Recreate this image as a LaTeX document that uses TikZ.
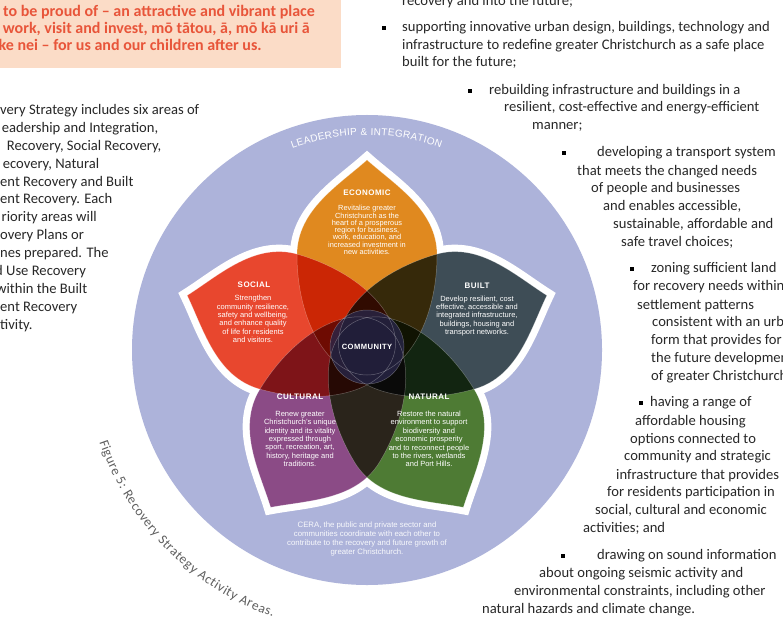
\documentclass[tikz,border=0pt]{standalone}
\usepackage{fontspec}
\setmainfont{Carlito}
\newfontfamily\pf{Liberation Sans}
\newfontfamily\pft[LetterSpace=6]{Liberation Sans}
\usetikzlibrary{decorations.text}
\definecolor{lav}{RGB}{173,179,218}
\definecolor{econ}{RGB}{224,137,31}
\definecolor{soc}{RGB}{232,71,46}
\definecolor{bui}{RGB}{62,77,86}
\definecolor{cul}{RGB}{139,75,134}
\definecolor{nat}{RGB}{78,123,52}
\definecolor{comm}{RGB}{40,38,72}
\definecolor{peach}{RGB}{251,220,199}
\definecolor{redtxt}{RGB}{232,85,58}
\definecolor{captxt}{RGB}{95,95,95}
\definecolor{bodyc}{RGB}{40,40,40}
\newcounter{tl}
\newcommand\bl[3]{\stepcounter{tl}\node[bodytxt] (tl\thetl) at (#1,{618.5-#2}) {#3};}
\newcommand\bsq[2]{\stepcounter{tl}\node[bullsq] (bq\thetl) at (#1,{622-#2}) {};}
\def\petalpath{(0pt,187pt) .. controls (28pt,162pt) and (70pt,137pt) .. (70pt,92pt) arc[x radius=70pt, y radius=120pt, start angle=0, end angle=-180] .. controls (-70pt,137pt) and (-28pt,162pt) .. (0pt,187pt) -- cycle}
\tikzset{
  bodytxt/.style={anchor=base west, inner sep=0pt, font=\fontsize{14.6}{17}\selectfont, text=bodyc},
  redline/.style={anchor=base west, inner sep=0pt, font=\bfseries\fontsize{16}{17}\selectfont, text=redtxt},
  ptitle/.style={inner sep=0pt, font=\pft\bfseries\fontsize{8}{9}\selectfont, text=white},
  pbody/.style={inner sep=0pt, align=center, font=\pf\fontsize{7.5}{8.4}\selectfont, text=white},
  bullsq/.style={fill=black, inner sep=0pt, minimum size=4.2pt},
}
\begin{document}
\begin{tikzpicture}[x=1pt,y=1pt]
\useasboundingbox (0,0) rectangle (783,622);
\fill[white] (0,0) rectangle (783,622);
% peach quote box
\fill[peach] (0,554) rectangle (341,622);
\node[redline] (r1) at (3,605) {to be proud of – an attractive and vibrant place};
\node[redline] (r2) at (-5,588) {, work, visit and invest, mō tātou, ā, mō kā uri ā};
\node[redline] (r3) at (-9.5,571) {ake nei – for us and our children after us.};
% big circle
\fill[lav] (367,272) circle[radius=235pt];
% petals
\begin{scope}[shift={(367,275)}]
  \foreach \r in {0,74,149,211,286}
    \draw[white, fill=white, line width=14pt, rotate=\r] \petalpath;
  \foreach \r/\c in {0/econ,74/soc,149/cul,211/nat,286/bui}
    \fill[\c, blend mode=multiply, rotate=\r] \petalpath;
  \fill[comm, opacity=0.8] (0,0) circle[radius=37pt];
  \foreach \r in {0,74,149,211,286}
    \draw[white, opacity=0.3, line width=0.5pt, rotate=\r] \petalpath;
  \draw[white, opacity=0.3, line width=0.5pt] (0,0) circle[radius=37pt];
\end{scope}
% petal texts
\node[ptitle] (econT) at (367,429) {ECONOMIC};
\node[pbody, font=\pf\fontsize{7.4}{7.3}\selectfont] (econB) at (367,392) {Revitalise greater\\Christchurch as the\\heart of a prosperous\\region for business,\\work, education, and\\increased investment in\\new activities.};
\node[ptitle] (socT) at (254,337) {SOCIAL};
\node[pbody] (socB) at (253,303) {Strengthen\\community resilience,\\safety and wellbeing,\\and enhance quality\\of life for residents\\and visitors.};
\node[ptitle] (buiT) at (477,336) {BUILT};
\node[pbody] (buiB) at (477,306) {Develop resilient, cost\\effective, accessible and\\integrated infrastructure,\\buildings, housing and\\transport networks.};
\node[ptitle] (culT) at (300,225) {CULTURAL};
\node[pbody] (culB) at (300,183) {Renew greater\\Christchurch’s unique\\identity and its vitality\\expressed through\\sport, recreation, art,\\history, heritage and\\traditions.};
\node[ptitle] (natT) at (429,225) {NATURAL};
\node[pbody] (natB) at (429,183) {Restore the natural\\environment to support\\biodiversity and\\economic prosperity\\and to reconnect people\\to the rivers, wetlands\\and Port Hills.};
\node[ptitle, font=\pft\bfseries\fontsize{7.6}{9}\selectfont] (commT) at (367,275) {COMMUNITY};
\node[pbody, font=\pf\fontsize{7.8}{9}\selectfont, text=white!92!lav] (cera) at (367,83.5) {CERA, the public and private sector and\\communities coordinate with each other to\\contribute to the recovery and future growth of\\greater Christchurch.};
% arc texts
\path[decorate, decoration={text along path, text align=fit to path,
  text={|\pf\fontsize{10}{10}\selectfont\color{white}|LEADERSHIP {\&} INTEGRATION}}]
  ([shift={(110.3:215pt)}]367,272) arc[start angle=110.3, end angle=70, radius=215pt];
\path[decorate, decoration={text along path, text align=fit to path,
  text={|\fontsize{13.5}{14}\selectfont\color{captxt}|Figure 5:  Recovery Strategy Activity Areas.}}]
  ([shift={(199:283pt)}]367,272) arc[start angle=199, end angle=250.5, radius=283pt];
% left paragraph
\bl{0}{111}{very Strategy includes six areas of}
\bl{1.7}{128.9}{eadership and Integration,}
\bl{6.7}{146.8}{Recovery, Social Recovery,}
\bl{2.7}{164.7}{ecovery, Natural}
\bl{0}{182.6}{ent Recovery and Built}
\bl{0}{200.5}{ent Recovery. Each}
\bl{1.5}{218.4}{riority areas will}
\bl{0}{236.3}{overy Plans or}
\bl{0}{254.2}{nes prepared. The}
\bl{-5}{272.1}{d Use Recovery}
\bl{-4}{290}{within the Built}
\bl{0}{307.9}{ent Recovery}
\bl{0}{325.8}{tivity.}
% right text
\bl{402}{2.5}{recovery and into the future;}
\bsq{384}{28}
\bl{402}{28}{supporting innovative urban design, buildings, technology and}
\bl{402}{46}{infrastructure to redefine greater Christchurch as a safe place}
\bl{402}{63}{built for the future;}
\bsq{470}{91}
\bl{489}{91}{rebuilding infrastructure and buildings in a}
\bl{504}{108}{resilient, cost-effective and energy-efficient}
\bl{532}{126}{manner;}
\bsq{564}{153}
\bl{597}{153}{developing a transport system}
\bl{577}{172}{that meets the changed needs}
\bl{591}{189}{of people and businesses}
\bl{603}{207}{and enables accessible,}
\bl{613}{225}{sustainable, affordable and}
\bl{621}{243}{safe travel choices;}
\bsq{632}{269}
\bl{651}{269}{zoning sufficient land}
\bl{633}{287}{for recovery needs within}
\bl{637}{306}{settlement patterns}
\bl{652}{323}{consistent with an urban}
\bl{651}{341}{form that provides for}
\bl{651}{359}{the future development}
\bl{651}{377}{of greater Christchurch;}
\bsq{641}{403}
\bl{650}{403}{having a range of}
\bl{635}{422}{affordable housing}
\bl{630}{440}{options connected to}
\bl{624}{457}{community and strategic}
\bl{616}{476}{infrastructure that provides}
\bl{607}{493}{for residents participation in}
\bl{595}{511}{social, cultural and economic}
\bl{583}{529}{activities; and}
\bsq{563}{556}
\bl{597}{556}{drawing on sound information}
\bl{539}{574}{about ongoing seismic activity and}
\bl{514}{592}{environmental constraints, including other}
\bl{482}{610}{natural hazards and climate change.}
\end{tikzpicture}
\end{document}
